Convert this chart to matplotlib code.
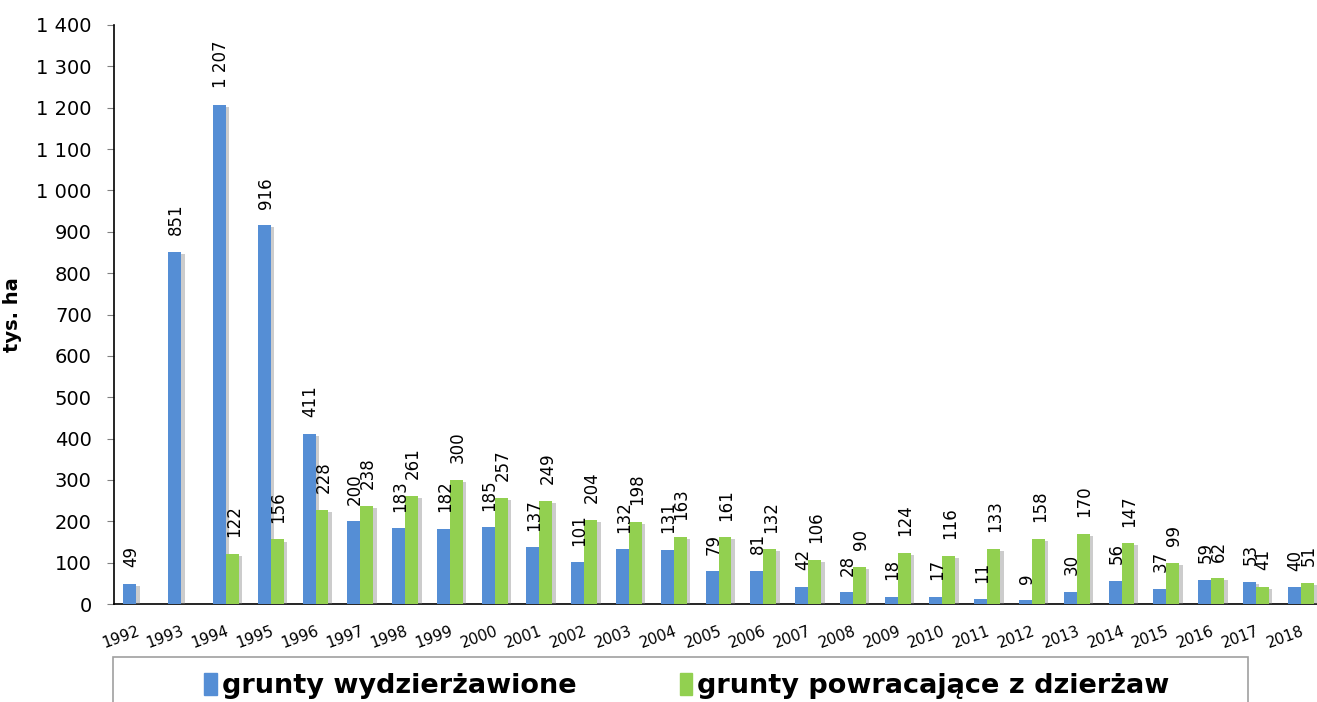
import matplotlib
matplotlib.use("Agg")
import matplotlib.pyplot as plt
import matplotlib.ticker as ticker
import matplotlib.patheffects as pe
from matplotlib.patches import Rectangle
import numpy as np

# Data (tys. ha)
years = [str(y) for y in range(1992, 2019)]
wydzierzawione = [49, 851, 1207, 916, 411, 200, 183, 182, 185, 137, 101, 132, 131,
                  79, 81, 42, 28, 18, 17, 11, 9, 30, 56, 37, 59, 53, 40]
powracajace = [None, None, 122, 156, 228, 238, 261, 300, 257, 249, 204, 198, 163,
               161, 132, 106, 90, 124, 116, 133, 158, 170, 147, 99, 62, 41, 51]

blue = '#558ED5'
green = '#92D050'

def main():
    fig = plt.figure(figsize=(13.17, 7.02), dpi=100)
    ax = fig.add_axes([114 / 1317, 98 / 702, 1209 / 1317, 579 / 702])

    x = np.arange(len(years))
    w = 0.29
    shadow = [pe.SimplePatchShadow(offset=(2.5, -1.5), shadow_rgbFace='#808080', alpha=0.4), pe.Normal()]

    for i, v in enumerate(wydzierzawione):
        b = ax.bar(x[i] - w / 2, v, w, color=blue, zorder=3)
        b[0].set_path_effects(shadow)
        ax.annotate(f"{v:,}".replace(",", " "), (x[i] - w / 2, v), xytext=(1, 12),
                    textcoords='offset points', rotation=90, ha='center', va='bottom',
                    fontsize=12, zorder=5)
    for i, v in enumerate(powracajace):
        if v is None:
            continue
        b = ax.bar(x[i] + w / 2, v, w, color=green, zorder=3)
        b[0].set_path_effects(shadow)
        ax.annotate(str(v), (x[i] + w / 2, v), xytext=(1, 12),
                    textcoords='offset points', rotation=90, ha='center', va='bottom',
                    fontsize=12, zorder=5)

    ax.set_xlim(-0.5, len(years) - 0.5)
    ax.set_ylim(0, 1400)
    ax.yaxis.set_major_locator(ticker.MultipleLocator(100))
    ax.yaxis.set_major_formatter(ticker.FuncFormatter(lambda v, p: f"{int(v):,}".replace(",", " ")))
    ax.tick_params(axis='y', labelsize=14, length=5, color='#808080', pad=11)
    ax.set_xticks(x)
    ax.set_xticklabels(years, rotation=20, ha='right', fontsize=11, rotation_mode='anchor')
    ax.tick_params(axis='x', length=0, pad=14)
    for s in ['top', 'right']:
        ax.spines[s].set_visible(False)
    ax.spines['left'].set_linewidth(1.2)
    ax.spines['bottom'].set_linewidth(1.2)

    ax.set_ylabel("tys. ha", fontsize=14, fontweight='bold', labelpad=10)

    # legend box
    fig.patches.append(Rectangle((113 / 1317, -0.02), (1248 - 113) / 1317, (702 - 657) / 702 + 0.02,
                                 transform=fig.transFigure, fill=False, edgecolor='#A0A0A0', lw=1.2))
    handles = [Rectangle((0, 0), 1, 1, color=blue), Rectangle((0, 0), 1, 1, color=green)]
    fig.legend(handles, ["grunty wydzierżawione", "grunty powracające z dzierżaw"],
               loc='center', bbox_to_anchor=(687 / 1317, 1 - 686 / 702), ncol=2, frameon=False,
               prop={'weight': 'bold', 'size': 19.5}, handlelength=0.45, handleheight=0.9,
               handletextpad=0.2, columnspacing=3.8)

    fig.savefig("out.png", dpi=100)

if __name__ == "__main__":
    main()
